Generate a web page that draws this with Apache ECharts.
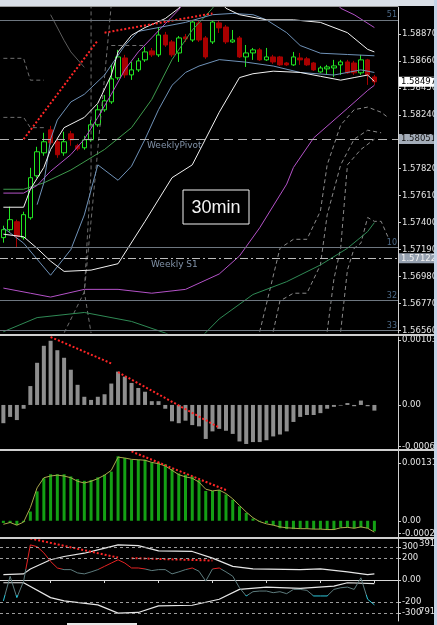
<!DOCTYPE html>
<html>
<head>
<meta charset="utf-8">
<title>30min</title>
<script src="https://cdn.jsdelivr.net/npm/echarts@6.0.0/dist/echarts.min.js"></script>
<style>
  html, body { margin: 0; padding: 0; background: #000; }
  #chart { width: 437px; height: 625px; }
</style>
</head>
<body>
<div id="chart"></div>
<script>
// 56 bars + 3 empty slots on the right (shifted lines run into them)
var slots = [];
for (var n = 0; n < 59; n++) slots.push(String(n));

// candles: [open, close, low, high]
var candles = [
  [1.57283, 1.57345, 1.57244, 1.57376], [1.57345, 1.57423, 1.57330, 1.57524],
  [1.57407, 1.57291, 1.57205, 1.57423], [1.57283, 1.57462, 1.57267, 1.57485],
  [1.57438, 1.57750, 1.57423, 1.57827], [1.57765, 1.57952, 1.57750, 1.57991],
  [1.57944, 1.58030, 1.57921, 1.58100], [1.58123, 1.58022, 1.58006, 1.58154],
  [1.58030, 1.57929, 1.57905, 1.58045], [1.57944, 1.58030, 1.57921, 1.58108],
  [1.58092, 1.58045, 1.57999, 1.58115], [1.57999, 1.57975, 1.57960, 1.58014],
  [1.57983, 1.58045, 1.57968, 1.58076], [1.58045, 1.58162, 1.58030, 1.58201],
  [1.58162, 1.58279, 1.58146, 1.58318], [1.58279, 1.58349, 1.58263, 1.58395],
  [1.58341, 1.58520, 1.58325, 1.58629], [1.58528, 1.58691, 1.58512, 1.58746],
  [1.58683, 1.58551, 1.58528, 1.58707], [1.58551, 1.58590, 1.58512, 1.58652],
  [1.58590, 1.58660, 1.58574, 1.58683], [1.58668, 1.58730, 1.58652, 1.58769],
  [1.58738, 1.58707, 1.58691, 1.58761], [1.58707, 1.58862, 1.58691, 1.58924],
  [1.58862, 1.58784, 1.58769, 1.58886], [1.58808, 1.58707, 1.58691, 1.58823],
  [1.58722, 1.58839, 1.58652, 1.58854], [1.58847, 1.58831, 1.58808, 1.58870],
  [1.58823, 1.58963, 1.58808, 1.58979], [1.58956, 1.58823, 1.58808, 1.58971],
  [1.58839, 1.58691, 1.58676, 1.58854], [1.58808, 1.58963, 1.58792, 1.58979],
  [1.58956, 1.58917, 1.58878, 1.58979], [1.58924, 1.58808, 1.58792, 1.58940],
  [1.58808, 1.58823, 1.58800, 1.58901], [1.58839, 1.58691, 1.58683, 1.58854],
  [1.58691, 1.58722, 1.58613, 1.58784], [1.58722, 1.58746, 1.58668, 1.58761],
  [1.58746, 1.58668, 1.58660, 1.58761], [1.58668, 1.58691, 1.58660, 1.58761],
  [1.58691, 1.58652, 1.58637, 1.58707], [1.58691, 1.58629, 1.58621, 1.58699],
  [1.58644, 1.58629, 1.58621, 1.58652], [1.58629, 1.58691, 1.58621, 1.58730],
  [1.58683, 1.58668, 1.58629, 1.58722], [1.58676, 1.58629, 1.58621, 1.58691],
  [1.58644, 1.58590, 1.58582, 1.58652], [1.58574, 1.58605, 1.58567, 1.58621],
  [1.58598, 1.58613, 1.58551, 1.58629], [1.58605, 1.58621, 1.58535, 1.58668],
  [1.58629, 1.58652, 1.58551, 1.58668], [1.58652, 1.58567, 1.58559, 1.58668],
  [1.58644, 1.58567, 1.58551, 1.58660], [1.58567, 1.58668, 1.58551, 1.58707],
  [1.58668, 1.58551, 1.58473, 1.58676], [1.58535, 1.58497, 1.58473, 1.58551]
];

// band lines on the price window: [bar, price]
var upperWhite = [[0,1.5752],[3,1.5752],[4,1.5766],[6,1.5783],[7,1.5797],[9,1.5814],[12,1.5822],[14,1.5833],[16,1.5855],[17,1.5873],[19,1.5886],[21,1.5892],[24,1.5899],[26,1.5907],[28,1.5920],[31,1.5920],[33,1.5907],[35,1.5902],[39,1.5898],[43,1.5898],[47,1.5896],[51,1.5888],[54,1.5875],[55,1.5873]];
var lowerWhite = [[0,1.5731],[3,1.5729],[5,1.5720],[7,1.5710],[9,1.5702],[13,1.5703],[17,1.5708],[21,1.5741],[25,1.5775],[28,1.5785],[32,1.5826],[35,1.5853],[37,1.5856],[40,1.5858],[44,1.5857],[47,1.5854],[50,1.5851],[52,1.5853],[54,1.5855],[55,1.5850]];
var upperBlue = [[5,1.5754],[6,1.5771],[7,1.5805],[8,1.5820],[10,1.5834],[12,1.5840],[15,1.5855],[18,1.5878],[20,1.5889],[23,1.5892],[27,1.5896],[31,1.5902],[34,1.5903],[37,1.5902],[39,1.5898],[42,1.5888],[44,1.5878],[47,1.5872],[51,1.5871],[55,1.5870]];
var lowerBlue = [[0,1.5736],[3,1.5724],[7,1.5699],[10,1.5719],[12,1.5746],[14,1.5785],[17,1.5773],[19,1.5784],[21,1.5805],[23,1.5828],[25,1.5847],[27,1.5857],[29,1.5862],[32,1.5867],[36,1.5865],[40,1.5862],[44,1.5857],[49,1.5855],[53,1.5859],[55,1.5857]];
var upperPink = [[0,1.5763],[3,1.5763],[5,1.5769],[7,1.5780],[10,1.5793],[12,1.5805],[14,1.5822],[16,1.5840],[18,1.5859],[20,1.5873],[22,1.5884],[24,1.5895],[26,1.5906],[27,1.5913],[29,1.5921],[48,1.5921],[50,1.5907],[52,1.5902],[55,1.5892]];
var lowerPink = [[0,1.5689],[4,1.5685],[7,1.5682],[12,1.5688],[17,1.5688],[22,1.5685],[27,1.5688],[32,1.5700],[35,1.5714],[38,1.5736],[42,1.5770],[43,1.5783],[46,1.5806],[51,1.5829],[54,1.5843],[55,1.5847]];
var upperGreen = [[0,1.5766],[3,1.5766],[6,1.5771],[10,1.5781],[15,1.5797],[19,1.5814],[22,1.5836],[25,1.5867],[28,1.5890],[31,1.5907],[32,1.5915]];
var lowerGreen = [[0,1.5655],[5,1.5666],[12,1.5670],[19,1.5663],[24,1.5654],[26,1.5649],[29,1.5649],[32,1.5665],[37,1.5684],[42,1.5694],[47,1.5707],[51,1.5720],[54,1.5733],[55,1.5740]];
var greyCurve = [[7,1.5902],[9,1.5882],[10,1.5873],[12,1.5861]];

// dashed grey lines
var dashLeft = [
  [[0,1.5868],[3,1.5868],[4,1.5851],[6,1.5851]],
  [[0,1.5822],[3,1.5822],[4,1.5814],[6,1.5814]],
  [[13,1.5910],[13,1.5781],[12,1.5686],[9,1.5654]],
  [[16,1.5910],[14,1.5797],[12,1.5686],[13,1.5654]],
  [[16,1.5878],[21,1.5878]]
];
var dashRight = [
  [[38,1.5655],[41,1.5720],[43,1.5727],[45,1.5727],[47,1.5749],[48,1.5785],[50,1.5816],[52,1.5828],[54,1.5830],[56,1.5826],[57,1.5822]],
  [[40,1.5655],[41,1.5679],[43,1.5685],[45,1.5685],[47,1.5707],[48,1.5746],[50,1.5785],[52,1.5805],[54,1.5812],[56,1.5810]],
  [[48,1.5655],[49,1.5696],[50,1.5720],[51,1.5785],[53,1.5797],[55,1.5805]],
  [[50,1.5655],[51,1.5703],[52,1.5720],[53,1.5724],[54,1.5744],[55,1.5741],[56,1.5741],[57,1.5729]]
];

var mainTrend1 = [[3,1.5805],[14,1.5882]];
var mainTrend2 = [[15,1.5888],[31,1.5903]];

var pivotLevel = 1.58051;
var s1Level = 1.57122;
var bidPrice = 1.58497;
var greyLevels = [1.5898, 1.57205, 1.56793, 1.5656];
var greyTags = ['51', '10', '32', '33'];
var priceTicks = [1.5887, 1.5866, 1.5845, 1.5824, 1.5803, 1.5782, 1.5761, 1.5740, 1.5719, 1.5698, 1.5677, 1.5656];

// window 2: grey histogram
var aoHist = [-0.00029,-0.00019,-0.00024,-0.00006,0.0003,0.00067,0.00094,0.00102,0.00087,0.00075,
  0.00056,0.00032,0.00013,0.00008,0.00013,0.00017,0.00034,0.00053,0.00045,0.00035,
  0.00027,0.00021,0.00006,0.00006,-0.00006,-0.00026,-0.00029,-0.00025,-0.00032,-0.00034,
  -0.00054,-0.00042,-0.00038,-0.00041,-0.00046,-0.00058,-0.00062,-0.00059,-0.00059,-0.00056,
  -0.0005,-0.00047,-0.00042,-0.00027,-0.00019,-0.00016,-0.00016,-0.00013,-0.00006,-0.00003,
  -0.00001,0.00003,-0.00002,0.00007,-0.00002,-0.00009];
var aoTrend1 = [[7,0.00108],[16,0.00066]];
var aoTrend2 = [[17,0.00052],[32,-0.00036]];
var aoTicks = [0.001032, 0, -0.00066];

// window 3: green histogram + signal
var osmaHist = [-0.00005,-0.00005,-0.0001,-0.00003,0.00021,0.00067,0.00097,0.00106,0.00106,0.00106,
  0.00101,0.00095,0.00091,0.00093,0.00099,0.00105,0.00112,0.00147,0.00143,0.00139,
  0.00139,0.00139,0.00133,0.00133,0.00129,0.00118,0.00108,0.00105,0.00101,0.00093,
  0.00068,0.00068,0.0007,0.0006,0.00048,0.00033,0.00018,0.00005,-0.00002,-0.00005,
  -0.0001,-0.00017,-0.00019,-0.00019,-0.00017,-0.00017,-0.00019,-0.00019,-0.0002,-0.0002,
  -0.00015,-0.00015,-0.00017,-0.00015,-0.00017,-0.00024];
var osmaSignal = [-0.00008,-0.00004,-0.0001,-0.00003,0.0003,0.00075,0.00098,0.00102,0.00104,0.00102,
  0.00098,0.0009,0.00086,0.0009,0.00096,0.00104,0.00115,0.00145,0.00143,0.0014,
  0.00139,0.00138,0.00133,0.0013,0.00125,0.00115,0.00105,0.001,0.00097,0.00088,
  0.00072,0.00068,0.0007,0.00062,0.0005,0.00035,0.0002,0.00007,-0.00002,-0.00007,
  -0.0001,-0.00014,-0.00016,-0.00017,-0.00018,-0.00018,-0.00019,-0.00019,-0.0002,-0.0002,
  -0.00016,-0.00015,-0.00017,-0.00014,-0.00017,-0.00026];
var osmaTrend = [[19,0.00158],[33,0.0007]];
var osmaTicks = [0.001318, 0, -0.00029];

// window 4: cci with envelope
var cci = [-191,34,-161,-11,321,305,248,170,110,95,
  95,65,56,74,95,125,155,185,155,110,
  110,101,86,95,95,56,74,95,110,80,
  -10,101,110,74,35,-71,-146,-107,-101,-101,
  -116,-107,-125,-86,-86,-95,-146,-146,-146,-86,
  -71,-65,-86,20,-176,-227];
var cciUpper = [[0,50],[3,56],[4,100],[7,185],[9,215],[12,245],[14,276],[17,321],[20,315],[23,267],[28,261],[31,200],[34,125],[37,101],[44,95],[47,101],[51,74],[54,50],[55,56]];
var cciLower = [[0,-25],[3,-25],[7,-161],[9,-191],[14,-228],[17,-303],[20,-297],[23,-237],[28,-231],[32,-176],[35,-86],[39,-65],[44,-77],[49,-56],[51,-25],[55,-34]];
var cciTrend1 = [[4,380],[17,205]];
var cciTrend2 = [[19,200],[31,178]];
var cciLevels = [300, 200, -200, -300];
var cciTicks = [300, 200, 0, -200, -300];

var chart = echarts.init(document.getElementById('chart'));

var labelFont = { color: '#e4e4e4', fontSize: 8.5, fontFamily: 'DejaVu Sans', margin: 4 };
var redDots = { color: '#ff2626', width: 2, type: [2, 2] };

function curve(data, color, grid, dash, width) {
  return {
    type: 'line', xAxisIndex: grid, yAxisIndex: grid, data: data,
    symbol: 'none', silent: true, animation: false,
    lineStyle: { color: color, width: width || 1, type: dash || 'solid' }
  };
}

function boxLabel(bg, fg) {
  return {
    show: true, position: 'end', distance: 1, formatter: '{b}',
    backgroundColor: bg, color: fg, fontSize: 8.5, fontFamily: 'DejaVu Sans',
    padding: [1, 4, 0, 2]
  };
}

var series = [];

series.push({
  type: 'candlestick', xAxisIndex: 0, yAxisIndex: 0, data: candles,
  barWidth: 5, silent: true, animation: false,
  itemStyle: { color: '#000', borderColor: '#22e622', color0: '#a80000', borderColor0: '#a80000', borderWidth: 1 }
});

dashLeft.forEach(function (d) { series.push(curve(d, '#6f6f6f', 0, [4, 3])); });
dashRight.forEach(function (d) { series.push(curve(d, '#8a8a8a', 0, [4, 3])); });
series.push(curve(greyCurve, '#5c5c5c', 0));
series.push(curve(lowerGreen, '#2f8a55', 0));
series.push(curve(upperGreen, '#3e9a4c', 0));
series.push(curve(upperPink, '#b452c8', 0));
series.push(curve(lowerPink, '#b452c8', 0));
series.push(curve(upperBlue, '#6f92b8', 0));
series.push(curve(lowerBlue, '#6f92b8', 0));
series.push(curve(upperWhite, '#f2f2f2', 0));
series.push(curve(lowerWhite, '#f2f2f2', 0));
series.push(curve(mainTrend1, redDots.color, 0, redDots.type, 2));
series.push(curve(mainTrend2, redDots.color, 0, redDots.type, 2));

// horizontal levels on the price window
var levels = curve([], '#000', 0);
levels.markLine = {
  silent: true, animation: false, symbol: ['none', 'none'], precision: 5,
  data: greyLevels.map(function (v, k) {
    return {
      name: greyTags[k], yAxis: v,
      lineStyle: { color: '#6e7780', width: 1, type: 'solid' },
      label: { show: true, position: 'insideEndTop', formatter: '{b}', color: '#4d6a88', fontSize: 8, fontFamily: 'DejaVu Sans', distance: 1 }
    };
  }).concat([
    { name: pivotLevel.toFixed(5), yAxis: pivotLevel, lineStyle: { color: '#b4b4b4', width: 1, type: [9, 5] }, label: boxLabel('#a4adb9', '#141414') },
    { name: s1Level.toFixed(5), yAxis: s1Level, lineStyle: { color: '#bcbcbc', width: 1, type: [8, 3, 2, 3] }, label: boxLabel('#96a1b0', '#f2f2f2') },
    { name: bidPrice.toFixed(5), yAxis: bidPrice, lineStyle: { color: 'rgba(0,0,0,0)', width: 1 }, label: boxLabel('#ffffff', '#000000') }
  ])
};
series.push(levels);

// window 2
series.push({
  type: 'bar', xAxisIndex: 1, yAxisIndex: 1, data: aoHist, barWidth: 4,
  silent: true, animation: false, itemStyle: { color: '#8e8e8e' }
});
series.push(curve(aoTrend1, redDots.color, 1, redDots.type, 2));
series.push(curve(aoTrend2, redDots.color, 1, redDots.type, 2));

// window 3
series.push({
  type: 'bar', xAxisIndex: 2, yAxisIndex: 2, data: osmaHist, barWidth: 3,
  silent: true, animation: false, itemStyle: { color: '#14a014' }
});
series.push(curve(osmaSignal, '#a9a94c', 2));
series.push(curve(osmaTrend, redDots.color, 2, redDots.type, 2));

// window 4
var envUp = curve(cciUpper, '#e6e6e6', 3, 'solid', 1.2);
envUp.markLine = {
  silent: true, animation: false, symbol: ['none', 'none'], label: { show: false },
  lineStyle: { color: '#9c9c9c', width: 1, type: [3, 3] },
  data: cciLevels.map(function (v) { return { yAxis: v }; })
};
series.push(envUp);
series.push(curve(cciLower, '#e6e6e6', 3, 'solid', 1.2));
var cciIndex = series.length;
series.push({
  type: 'line', xAxisIndex: 3, yAxisIndex: 3, data: cci,
  symbol: 'none', silent: true, animation: false, lineStyle: { width: 1 }
});
series.push(curve(cciTrend1, redDots.color, 3, redDots.type, 2));
series.push(curve(cciTrend2, redDots.color, 3, redDots.type, 2));

function xAx(grid, visible) {
  return {
    type: 'category', gridIndex: grid, data: slots, show: visible, boundaryGap: true,
    axisLine: { show: true, lineStyle: { color: '#d8d8d8' } },
    axisTick: {
      show: true, alignWithLabel: true, length: 3, lineStyle: { color: '#d8d8d8' },
      interval: function (idx) { return idx % 8 === 7; }
    },
    axisLabel: { show: false },
    splitLine: { show: false }
  };
}

function yAx(grid, min, max, ticks, fmt) {
  return {
    type: 'value', gridIndex: grid, position: 'right', min: min, max: max,
    splitLine: { show: false },
    axisLine: { show: true, lineStyle: { color: '#cfcfcf' } },
    axisTick: { show: true, customValues: ticks, length: 3, lineStyle: { color: '#cfcfcf' } },
    axisLabel: Object.assign({ customValues: ticks, formatter: fmt }, labelFont)
  };
}

function small(v) { return v === 0 ? '0.00' : String(v); }

var option = {
  backgroundColor: '#000',
  animation: false,
  grid: [
    { left: 0, right: 39, top: 7, height: 326, outerBoundsMode: 'none' },
    { left: 0, right: 39, top: 337, height: 112, outerBoundsMode: 'none' },
    { left: 0, right: 39, top: 451, height: 86, outerBoundsMode: 'none' },
    { left: 0, right: 39, top: 539, height: 82, outerBoundsMode: 'none' }
  ],
  xAxis: [xAx(0, false), xAx(1, false), xAx(2, false), xAx(3, true)],
  yAxis: [
    yAx(0, 1.5654, 1.5908, priceTicks, function (v) { return v.toFixed(5); }),
    yAx(1, -0.0007, 0.00108, aoTicks, small),
    yAx(2, -0.00037, 0.00159, osmaTicks, small),
    yAx(3, -375, 375, cciTicks, small)
  ],
  visualMap: [{
    show: false, type: 'piecewise', seriesIndex: cciIndex, dimension: 1,
    pieces: [
      { gt: 100, color: '#e42222' },
      { gte: -140, lte: 100, color: '#5d7b7d' },
      { lt: -140, color: '#2cc8dc' }
    ]
  }],
  series: series,
  graphic: [
    { type: 'rect', z: 100, shape: { x: 0, y: 0, width: 437, height: 6 }, style: { fill: '#d9dfe7' } },
    { type: 'rect', z: 100, shape: { x: 0, y: 6, width: 398, height: 1 }, style: { fill: '#9a9a9a' } },
    { type: 'rect', z: 100, shape: { x: 0, y: 334, width: 434, height: 2 }, style: { fill: '#cfcfcf' } },
    { type: 'rect', z: 100, shape: { x: 0, y: 449, width: 434, height: 2 }, style: { fill: '#cfcfcf' } },
    { type: 'rect', z: 100, shape: { x: 0, y: 537, width: 434, height: 2 }, style: { fill: '#cfcfcf' } },
    { type: 'rect', z: 100, shape: { x: 67, y: 623, width: 70, height: 2 }, style: { fill: '#e8e8e8' } },
    { type: 'rect', z: 100, shape: { x: 434, y: 0, width: 3, height: 625 }, style: { fill: '#c4d4e8' } },
    { type: 'rect', z: 50, shape: { x: 183, y: 190, width: 66, height: 34 }, style: { fill: '#000', stroke: '#f2f2f2', lineWidth: 1 } },
    { type: 'text', z: 51, x: 216, y: 208, style: { text: '30min', fill: '#f4f4f4', font: '18px "Liberation Sans"', align: 'center', verticalAlign: 'middle' } },
    { type: 'text', z: 51, x: 147, y: 146, style: { text: 'WeeklyPivot', fill: '#8192a8', font: '9px "DejaVu Sans"', verticalAlign: 'middle' } },
    { type: 'text', z: 51, x: 151, y: 265, style: { text: 'Weekly S1', fill: '#8192a8', font: '9px "DejaVu Sans"', verticalAlign: 'middle' } },
    { type: 'text', z: 51, x: 419, y: 544, style: { text: '391', fill: '#e4e4e4', font: '8.5px "DejaVu Sans"', verticalAlign: 'middle' } },
    { type: 'text', z: 51, x: 419, y: 612, style: { text: '791', fill: '#e4e4e4', font: '8.5px "DejaVu Sans"', verticalAlign: 'middle' } }
  ]
};

chart.setOption(option);
</script>
</body>
</html>
